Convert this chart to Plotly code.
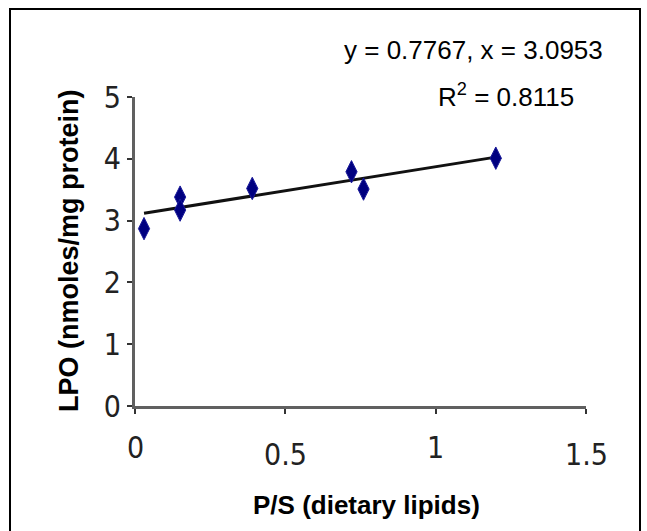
import plotly.graph_objects as go

# P/S ratio of dietary lipids vs lipid peroxidation
ps_ratio = [0.03, 0.15, 0.15, 0.39, 0.72, 0.76, 1.20]
lpo = [2.87, 3.38, 3.17, 3.52, 3.79, 3.51, 4.01]

# linear fit reported on the chart
slope = 0.7767
intercept = 3.0953
r_squared = 0.8115

x_ticks = [0, 0.5, 1, 1.5]
x_tick_labels = ["0", "0.5", "1", "1.5"]
y_ticks = [0, 1, 2, 3, 4, 5]

W, H = 647, 531
L, R, T, B = 135, 61, 97, 125
pw, ph = W - L - R, H - T - B

def px_to_paper_x(px):
    return (px - L) / pw

def px_to_paper_y(py):
    return (H - B - py) / ph

fit_x = [min(ps_ratio), max(ps_ratio)]
fit_y = [slope * v + intercept for v in fit_x]

num_font = "Liberation Sans Narrow, Arial Narrow, DejaVu Sans Condensed, Liberation Sans, Arial"
txt_font = "Liberation Sans, Arial"

fig = go.Figure()
fig.add_trace(go.Scatter(
    x=fit_x, y=fit_y, mode="lines",
    line=dict(color="#111111", width=3),
    showlegend=False, hoverinfo="skip",
))
fig.add_trace(go.Scatter(
    x=ps_ratio, y=lpo, mode="markers",
    marker=dict(symbol="diamond-tall", size=16, color="#000080",
                line=dict(width=1, color="#1a1a9a")),
    showlegend=False,
))

# x tick labels (alternating heights)
for i, (v, lab) in enumerate(zip(x_ticks, x_tick_labels)):
    fig.add_annotation(
        x=v, y=px_to_paper_y(447 if i % 2 == 0 else 454),
        xref="x", yref="paper", text=lab, showarrow=False,
        font=dict(family=num_font, size=30, color="#222222"),
        xanchor="center", yanchor="middle",
    )

fig.add_annotation(
    x=px_to_paper_x(473), y=px_to_paper_y(50), xref="paper", yref="paper",
    text=f"y = {slope}, x = {intercept}", showarrow=False,
    font=dict(family=txt_font, size=26, color="#000000"),
    xanchor="center", yanchor="middle",
)
fig.add_annotation(
    x=px_to_paper_x(506), y=px_to_paper_y(95), xref="paper", yref="paper",
    text=f"R<sup>2</sup> = {r_squared}", showarrow=False,
    font=dict(family=txt_font, size=26, color="#000000"),
    xanchor="center", yanchor="middle",
)
fig.add_annotation(
    x=px_to_paper_x(366), y=px_to_paper_y(505), xref="paper", yref="paper",
    text="<b>P/S (dietary lipids)</b>", showarrow=False,
    font=dict(family=txt_font, size=26, color="#000000"),
    xanchor="center", yanchor="middle",
)
fig.add_annotation(
    x=px_to_paper_x(69), y=px_to_paper_y(251), xref="paper", yref="paper",
    text="<b>LPO (nmoles/mg protein)</b>", showarrow=False, textangle=-90,
    font=dict(family=txt_font, size=27, color="#000000"),
    xanchor="center", yanchor="middle",
)

# outer frame
fig.add_shape(
    type="rect", xref="paper", yref="paper",
    x0=px_to_paper_x(10), x1=px_to_paper_x(640),
    y0=px_to_paper_y(545), y1=px_to_paper_y(9),
    line=dict(color="#000000", width=2), fillcolor="rgba(0,0,0,0)",
)

axis_common = dict(
    showgrid=False, zeroline=False, showline=True,
    linecolor="#606060", linewidth=3,
    ticks="outside", ticklen=5, tickwidth=2, tickcolor="#333333",
)
fig.update_xaxes(range=[0, 1.5], tickvals=x_ticks, showticklabels=False,
                 **axis_common)
fig.update_yaxes(range=[0, 5], tickvals=y_ticks,
                 tickfont=dict(family=num_font, size=30, color="#222222"),
                 **axis_common)

fig.update_layout(
    width=W, height=H, autosize=False,
    margin=dict(l=L, r=R, t=T, b=B),
    paper_bgcolor="white", plot_bgcolor="white",
)

fig.write_html("out.html")
